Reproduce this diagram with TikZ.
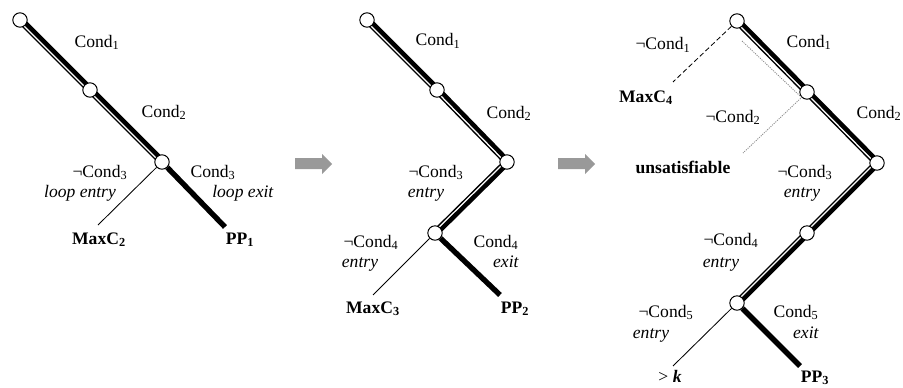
\documentclass[tikz,border=0pt]{standalone}
\usepackage{fontspec}
\setmainfont{Liberation Serif}
\usetikzlibrary{calc,backgrounds}

\definecolor{arrowgray}{gray}{0.6}
\definecolor{unsatgray}{gray}{0.55}

\tikzset{
  branch/.style={circle, draw, fill=white, line width=0.7pt, minimum size=0.36cm, inner sep=0pt},
  lbl/.style={inner sep=0pt, anchor=base},
  exitline/.style={line width=3.8pt},
  entryline/.style={line width=0.6pt},
}

% thick + thin parallel strokes between two branch points
\newcommand{\condedge}[2]{%
  \draw[line width=3.2pt] ($(#1)!1.2pt!90:(#2)$) -- ($(#2)!1.2pt!-90:(#1)$);
  \draw[line width=0.95pt] ($(#1)!2.0pt!-90:(#2)$) -- ($(#2)!2.0pt!90:(#1)$);}

\begin{document}
\begin{tikzpicture}[x=0.025cm, y=-0.025cm, font=\fontsize{12.5pt}{15pt}\selectfont]
   \useasboundingbox (0,0) rectangle (903,388);

   % first tree
   \node[branch] (A1) at (20,20) {};
   \node[branch] (A2) at (90,90) {};
   \node[branch] (A3) at (162,162) {};
   \coordinate (A3in) at (98,225);
   \coordinate (A3out) at (225,227);
   \begin{pgfonlayer}{background}
      \condedge{A1}{A2}
      \condedge{A2}{A3}
   \end{pgfonlayer}
   \draw[entryline] (A3) -- (A3in);
   \draw[exitline] (A3) -- (A3out);

   \node[lbl] (a1) at (97,47) {Cond\textsubscript{1}};
   \node[lbl] (a2) at (164,117) {Cond\textsubscript{2}};
   \node[lbl] (a3n) at (100,177) {¬Cond\textsubscript{3}};
   \node[lbl] (a3ne) at (80,197) {\textit{loop entry}};
   \node[lbl] (a3) at (213,177) {Cond\textsubscript{3}};
   \node[lbl] (a3e) at (243,197) {\textit{loop exit}};
   \node[lbl] (maxc2) at (99,244) {\textbf{MaxC\textsubscript{2}}};
   \node[lbl] (pp1) at (240,244) {\textbf{PP\textsubscript{1}}};

   % second tree
   \node[branch] (B1) at (367,20) {};
   \node[branch] (B2) at (437,90) {};
   \node[branch] (B3) at (507,162) {};
   \node[branch] (B4) at (435,233) {};
   \coordinate (B4in) at (373,295);
   \coordinate (B4out) at (500,295);
   \begin{pgfonlayer}{background}
      \condedge{B1}{B2}
      \condedge{B2}{B3}
      \condedge{B3}{B4}
   \end{pgfonlayer}
   \draw[entryline] (B4) -- (B4in);
   \draw[exitline] (B4) -- (B4out);

   \node[lbl] (b1) at (438,46) {Cond\textsubscript{1}};
   \node[lbl] (b2) at (509,118) {Cond\textsubscript{2}};
   \node[lbl] (b3n) at (436,177) {¬Cond\textsubscript{3}};
   \node[lbl] (b3ne) at (426,197) {\textit{entry}};
   \node[lbl] (b4n) at (371,247) {¬Cond\textsubscript{4}};
   \node[lbl] (b4ne) at (360,267) {\textit{entry}};
   \node[lbl] (b4) at (496,247) {Cond\textsubscript{4}};
   \node[lbl] (b4e) at (506,267) {\textit{exit}};
   \node[lbl] (maxc3) at (373,313) {\textbf{MaxC\textsubscript{3}}};
   \node[lbl] (pp2) at (515,313) {\textbf{PP\textsubscript{2}}};

   % third tree
   \node[branch] (C1) at (737,21) {};
   \node[branch] (C2) at (807,92) {};
   \node[branch] (C3) at (877,163) {};
   \node[branch] (C4) at (807,233) {};
   \node[branch] (C5) at (737,303) {};
   \coordinate (C1neg) at (673,82);
   \coordinate (C2start) at (742,41);
   \coordinate (C2neg) at (743,153);
   \coordinate (C5in) at (673,366);
   \coordinate (C5out) at (800,366);
   \begin{pgfonlayer}{background}
      \condedge{C1}{C2}
      \condedge{C2}{C3}
      \condedge{C3}{C4}
      \condedge{C4}{C5}
   \end{pgfonlayer}
   \draw[line width=0.6pt, dash pattern=on 3.5pt off 2pt] (C1) -- (C1neg);
   \draw[unsatgray, line width=0.6pt, dash pattern=on 0.8pt off 0.8pt] (C2start) -- (C2.south west) -- (C2neg);
   \draw[entryline] (C5) -- (C5in);
   \draw[exitline] (C5) -- (C5out);

   \node[lbl] (c1n) at (663,50) {¬Cond\textsubscript{1}};
   \node[lbl] (c1) at (809,47) {Cond\textsubscript{1}};
   \node[lbl] (maxc4) at (646,102) {\textbf{MaxC\textsubscript{4}}};
   \node[lbl] (c2n) at (733,122) {¬Cond\textsubscript{2}};
   \node[lbl] (c2) at (879,118) {Cond\textsubscript{2}};
   \node[lbl] (unsat) at (683,173) {\textbf{unsatisfiable}};
   \node[lbl] (c3n) at (805,177) {¬Cond\textsubscript{3}};
   \node[lbl] (c3ne) at (802,197) {\textit{entry}};
   \node[lbl] (c4n) at (731,245) {¬Cond\textsubscript{4}};
   \node[lbl] (c4ne) at (721,267) {\textit{entry}};
   \node[lbl] (c5n) at (666,317) {¬Cond\textsubscript{5}};
   \node[lbl] (c5ne) at (651,338) {\textit{entry}};
   \node[lbl] (c5) at (796,317) {Cond\textsubscript{5}};
   \node[lbl] (c5e) at (806,338) {\textit{exit}};
   \node[lbl] (gtk) at (670,382) {> \textbf{\textit{k}}};
   \node[lbl] (pp3) at (815,382) {\textbf{PP\textsubscript{3}}};

   % arrows between the stages
   \foreach \ax in {295,558}
      \fill[arrowgray] (\ax,158) -- (\ax+27,158) -- (\ax+27,154) -- (\ax+37,164)
         -- (\ax+27,174) -- (\ax+27,169) -- (\ax,169) -- cycle;
\end{tikzpicture}
\end{document}
